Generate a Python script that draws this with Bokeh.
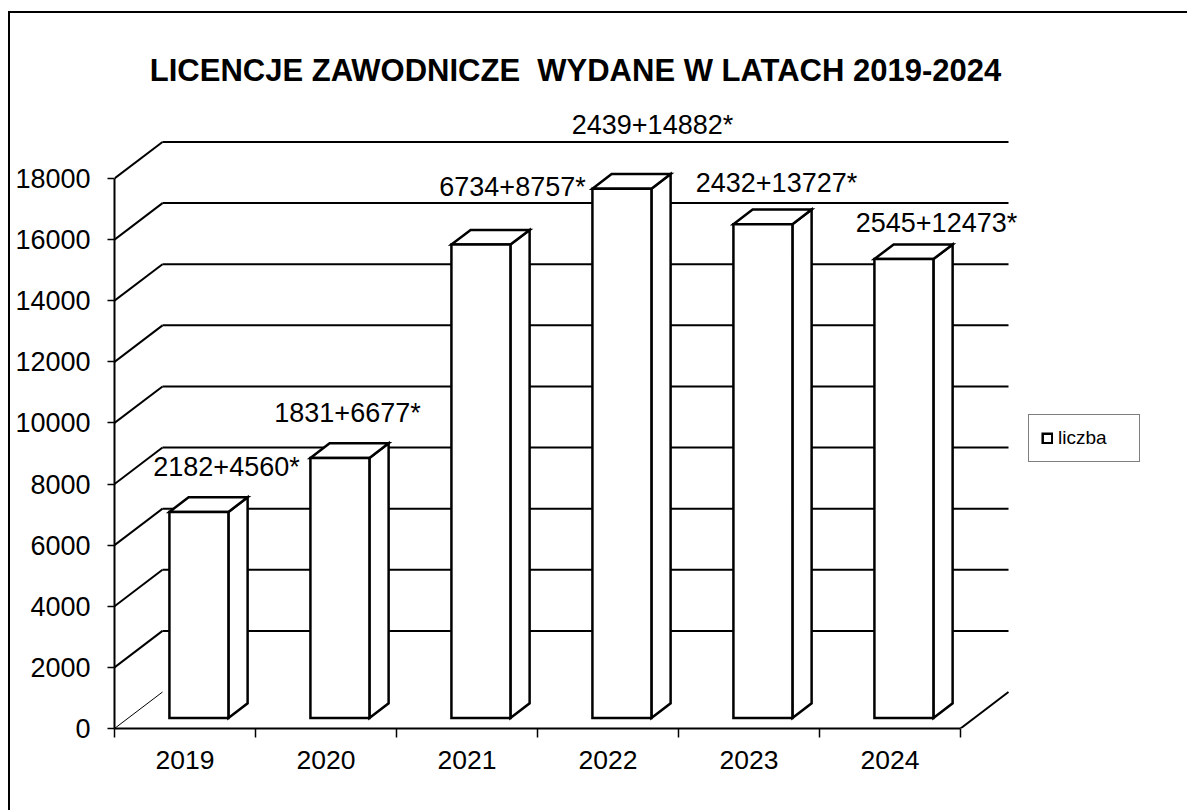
from bokeh.plotting import figure
from bokeh.models import Range1d, FixedTicker, Legend, LegendItem, ColumnDataSource
from bokeh.core.properties import value
from bokeh.embed import file_html
from bokeh.resources import INLINE

# ---------------- data ----------------
years = ["2019", "2020", "2021", "2022", "2023", "2024"]
licencje = [2182, 1831, 6734, 2439, 2432, 2545]
licencje_star = [4560, 6677, 8757, 14882, 13727, 12473]
y_ticks = [0, 2000, 4000, 6000, 8000, 10000, 12000, 14000, 16000, 18000]
title_text = "LICENCJE ZAWODNICZE \u00a0WYDANE W LATACH 2019-2024"
series_name = "liczba"

totals = [a + b for a, b in zip(licencje, licencje_star)]
labels = [f"{a}+{b}*" for a, b in zip(licencje, licencje_star)]

# ---------------- layout constants (pixels) ----------------
FONT = "Liberation Sans"
OX, OY = 10, 13            # canvas origin on the page (margin + border)
AX_X, AX_Y = 114, 728      # page position of the (0, 0) corner
W, H = 1179, 799
ML = AX_X - OX
frame_h = AX_Y - OY
MB = H - frame_h
frame_w = W - ML
PX_CAT = 141.0            # pixels per category
PX_VAL = 550.0 / 18000.0  # pixels per unit value
DXu = 48.0 / PX_CAT       # wall depth (x)
DYu = 36.5 / PX_VAL       # wall depth (y)
F1 = 0.29                 # bar front plane depth fraction
FD = 0.40                 # bar depth fraction
BW = 59.0 / PX_CAT        # bar width
label_dx = [41.5, 21.5, 45.5, 44.5, 27.5, 46.5]
label_dy = [-55, -56, -68, -74, -52, -47]

def ux(px):   # page x pixel -> data x
    return (px - AX_X) / PX_CAT

def uy(py):   # page y pixel -> data y
    return (AX_Y - py) / PX_VAL

p = figure(width=W, height=H, output_backend="svg", toolbar_location=None,
           x_range=Range1d(0, frame_w / PX_CAT), y_range=Range1d(0, frame_h / PX_VAL),
           min_border_left=ML, min_border_bottom=MB, min_border_top=0, min_border_right=0,
           background_fill_color="white", border_fill_color="white", outline_line_color=None)
p.styles = {"margin-left": "8px", "margin-top": "11px",
            "border-left": "2px solid black", "border-top": "2px solid black"}
p.xgrid.visible = False
p.ygrid.visible = False

n = len(years)

# ---------------- back wall / floor ----------------
diag_xs, diag_ys, hor_xs, hor_ys = [], [], [], []
for v in y_ticks:
    if v > 0:
        diag_xs.append([0, DXu]); diag_ys.append([v, v + DYu])
        hor_xs.append([DXu, n + DXu]); hor_ys.append([v + DYu, v + DYu])
p.multi_line(diag_xs, diag_ys, line_color="black", line_width=2)
p.multi_line(hor_xs, hor_ys, line_color="black", line_width=2)
p.line([0, DXu], [0, DYu], line_color="black", line_width=1)
p.line([n, n + DXu], [0, DYu], line_color="black", line_width=2)

# ---------------- bars (3D) ----------------
xl = [i + 0.5 - BW / 2 + F1 * DXu for i in range(n)]
xr = [x + BW for x in xl]
yb = [F1 * DYu] * n
yt = [t + F1 * DYu for t in totals]
sdx, sdy = FD * DXu, FD * DYu

side_xs = [[r, r + sdx, r + sdx, r] for r in xr]
side_ys = [[b, b + sdy, t + sdy, t] for b, t in zip(yb, yt)]
top_xs = [[l, r, r + sdx, l + sdx] for l, r in zip(xl, xr)]
top_ys = [[t, t, t + sdy, t + sdy] for t in yt]

p.patches(side_xs, side_ys, fill_color="white", line_color="black", line_width=2.5,
          line_join="miter")
p.patches(top_xs, top_ys, fill_color="white", line_color="black", line_width=2.5,
          line_join="miter")
src = ColumnDataSource(dict(left=xl, right=xr, bottom=yb, top=yt, year=years,
                            total=totals))
front = p.quad(left="left", right="right", bottom="bottom", top="top", source=src,
               fill_color="white", line_color="black", line_width=2.5, line_join="miter")

# ---------------- data labels ----------------
lsrc = ColumnDataSource(dict(x=[i + 0.5 for i in range(n)], y=totals, text=labels,
                             dx=label_dx, dy=label_dy))
p.text(x="x", y="y", text="text", x_offset="dx", y_offset="dy", source=lsrc,
       text_font=value(FONT), text_font_size="27px", text_color="black",
       text_align="center", text_baseline="middle")

# ---------------- title ----------------
p.text(x=[ux(575)], y=[uy(70)], text=[title_text], text_font=value(FONT),
       text_font_size="31px", text_font_style="bold", text_color="black",
       text_align="center", text_baseline="middle")

# ---------------- legend ----------------
legend = Legend(items=[LegendItem(label=series_name, renderers=[front])],
                location=(1028 - AX_X, AX_Y - 462),
                border_line_color="black", border_line_width=1,
                background_fill_color="white", background_fill_alpha=1,
                padding=12, margin=0, spacing=0, label_standoff=5,
                glyph_width=12, glyph_height=12, label_width=69,
                label_text_font=FONT, label_text_font_size="19px",
                label_text_color="black")
p.add_layout(legend, "center")

# ---------------- axes ----------------
ya = p.yaxis[0]
ya.ticker = FixedTicker(ticks=y_ticks, minor_ticks=[])
ya.bounds = (0, 18000)
ya.axis_line_color = "black"
ya.axis_line_width = 2
ya.major_tick_in = 0
ya.major_tick_out = 7
ya.major_tick_line_color = "black"
ya.major_tick_line_width = 1.5
ya.minor_tick_line_color = None
ya.major_label_standoff = 17
ya.major_label_text_font = FONT
ya.major_label_text_font_size = "27px"
ya.major_label_text_color = "black"

xa = p.xaxis[0]
centers = [i + 0.5 for i in range(n)]
xa.ticker = FixedTicker(ticks=centers, minor_ticks=list(range(n + 1)))
xa.major_label_overrides = {c: y for c, y in zip(centers, years)}
xa.bounds = (0, n)
xa.axis_line_color = "black"
xa.axis_line_width = 2
xa.major_tick_line_color = None
xa.major_tick_out = 0
xa.major_tick_in = 0
xa.minor_tick_line_color = "black"
xa.minor_tick_line_width = 1.5
xa.minor_tick_in = 0
xa.minor_tick_out = 9
xa.major_label_standoff = 13
xa.major_label_text_font = FONT
xa.major_label_text_font_size = "26.5px"
xa.major_label_text_color = "black"

open("out.html", "w").write(file_html(p, INLINE))
